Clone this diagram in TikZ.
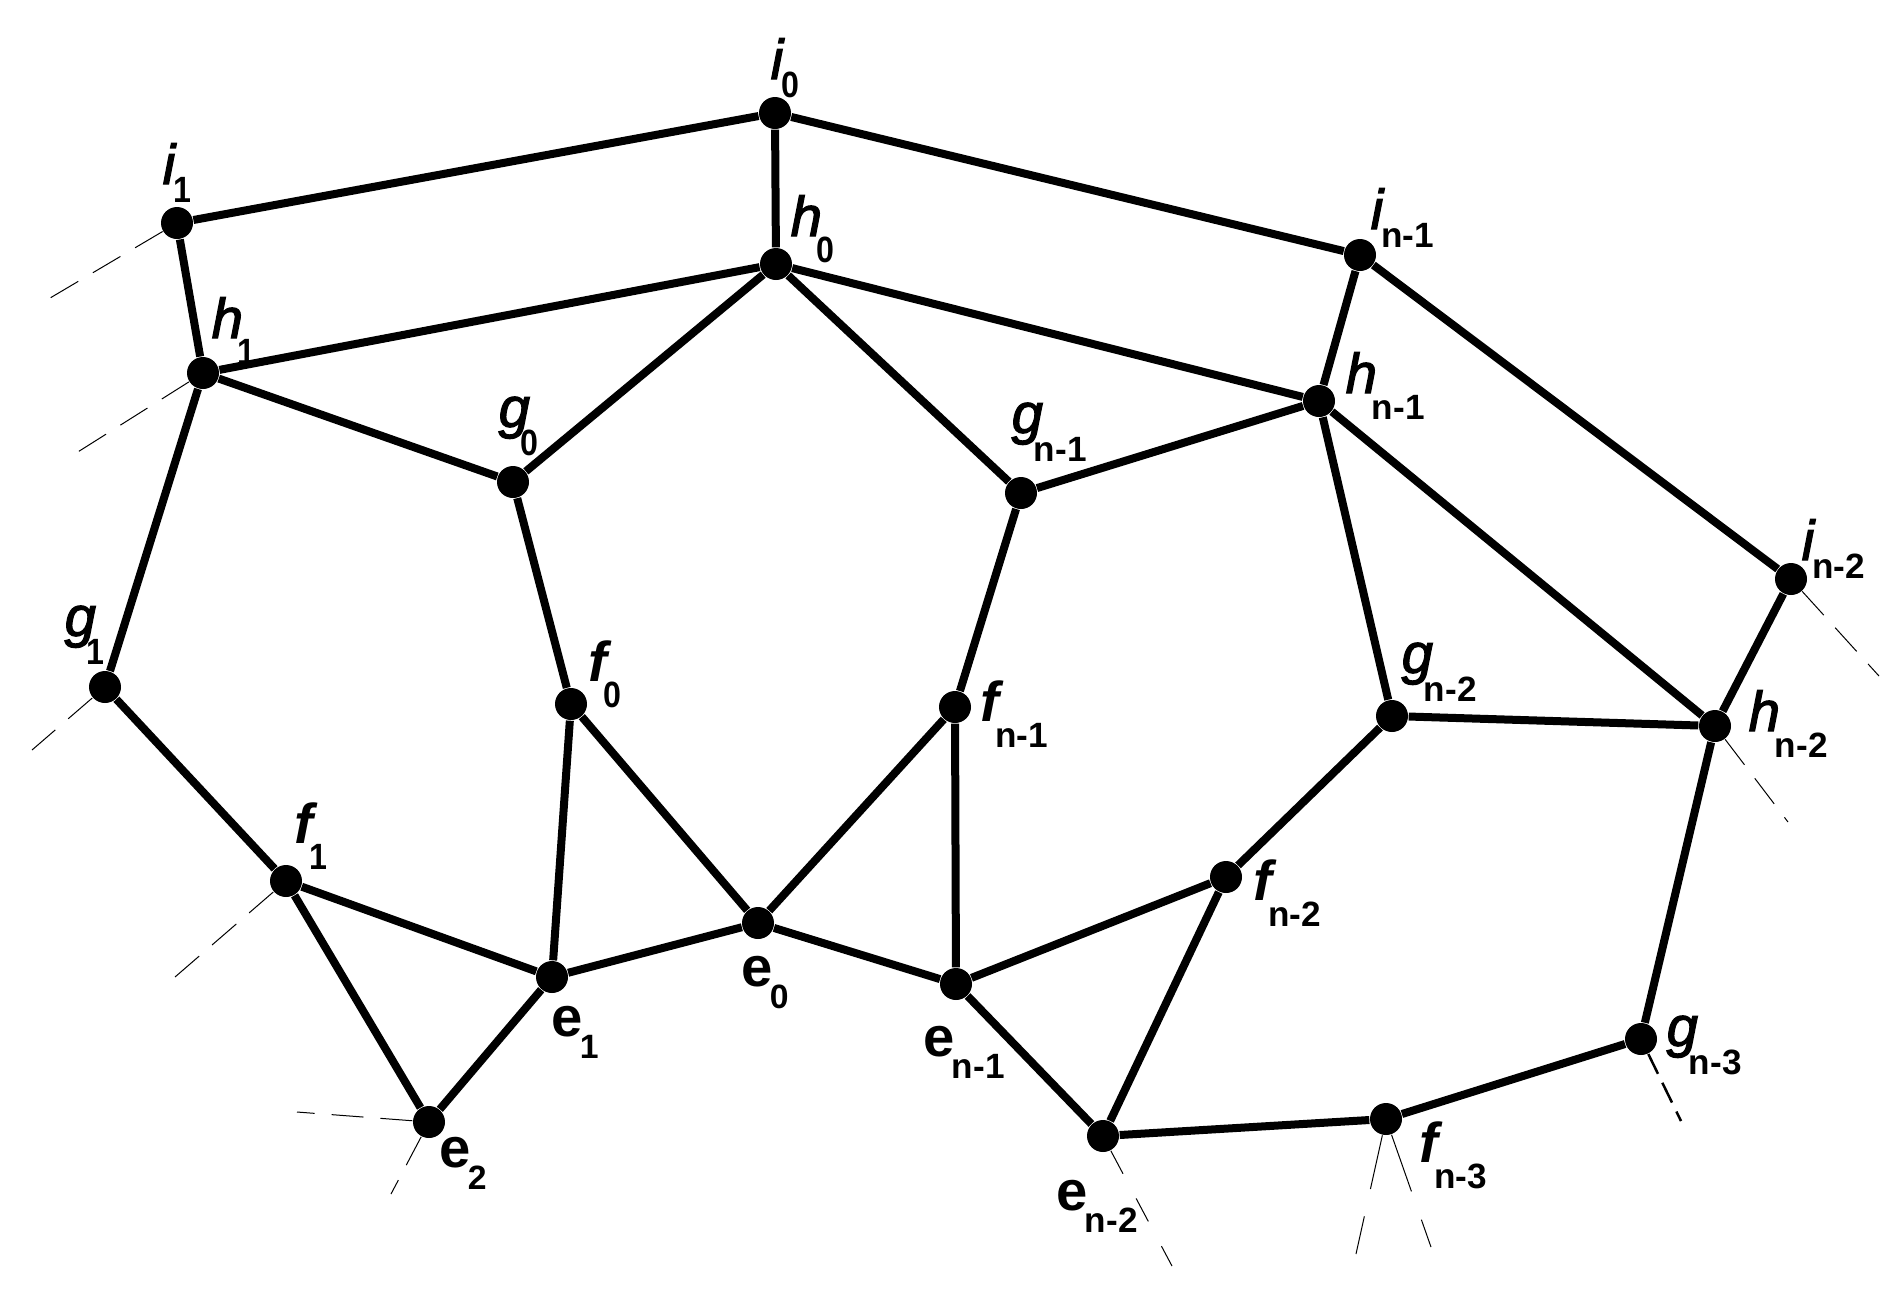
\documentclass[tikz,border=0pt]{standalone}
\usepackage{fontspec}
\setmainfont{Liberation Sans}
\newcommand{\subtxt}[3]{\hspace{#1}\raisebox{#2}{#3}}
\newcommand{\subd}[1]{\fontsize{10.4}{12}\selectfont\bfseries\addfontfeature{FakeStretch=0.88}#1}
\newcommand{\subb}[1]{\fontsize{9.6}{12}\selectfont\bfseries #1}
\newcommand{\subn}[1]{\fontsize{10}{12}\selectfont\bfseries #1}
\newcommand{\slant}[1]{{\itshape\addfontfeature{FakeBold=2.2}#1}}
\newcommand{\labi}[1]{\slant{i}\subtxt{-.2mm}{-.18cm}{#1}}
\newcommand{\labh}[1]{\slant{h}\subtxt{-.5mm}{-.26cm}{#1}}
\newcommand{\labg}[1]{\slant{g}\subtxt{-.9mm}{-.28cm}{#1}}
\newcommand{\labf}[1]{\textbf{\textit{f}}\subtxt{-.9mm}{-.26cm}{#1}}
\newcommand{\labe}[1]{\textbf{e}\subtxt{-.3mm}{-.22cm}{#1}}
\tikzset{
  vert/.style={circle,fill=black,inner sep=0pt,minimum size=3.2mm},
  lab/.style={anchor=base west,inner sep=0pt,font=\fontsize{16}{18}\selectfont},
  edge/.style={line width=.8mm},
  stub/.style={line width=.1mm,dash pattern=on 3.2mm off 1.7mm},
}
\begin{document}
\begin{tikzpicture}[x=.1mm,y=-.1mm]
          \useasboundingbox (0,0) rectangle (1899,1305);
          % vertices
          \node[vert] (i0) at (775,113) {};
          \node[vert] (i1) at (177,223) {};
          \node[vert] (in1) at (1360,255) {};
          \node[vert] (in2) at (1791,579) {};
          \node[vert] (h0) at (776,264) {};
          \node[vert] (h1) at (203,373) {};
          \node[vert] (hn1) at (1319,401) {};
          \node[vert] (hn2) at (1715,726) {};
          \node[vert] (g0) at (513,482) {};
          \node[vert] (g1) at (105,687) {};
          \node[vert] (gn1) at (1021,493) {};
          \node[vert] (gn2) at (1392,716) {};
          \node[vert] (gn3) at (1641,1039) {};
          \node[vert] (f0) at (571,704) {};
          \node[vert] (f1) at (286,881) {};
          \node[vert] (fn1) at (955,707) {};
          \node[vert] (fn2) at (1226,877) {};
          \node[vert] (fn3) at (1386,1119) {};
          \node[vert] (e0) at (758,923) {};
          \node[vert] (e1) at (552,977) {};
          \node[vert] (e2) at (429,1122) {};
          \node[vert] (en1) at (956,984) {};
          \node[vert] (en2) at (1103,1136) {};
          % labels
          \node[lab] (li0) at (770,79) {\labi{\subd{0}}};
          \node[lab] (li1) at (162,184) {\labi{\subd{1}}};
          \node[lab] (lin1) at (1370,229) {\labi{\subn{n-1}}};
          \node[lab] (lin2) at (1801,560) {\labi{\subn{n-2}}};
          \node[lab] (lh0) at (790,236) {\labh{\subd{0}}};
          \node[lab] (lh1) at (211,338) {\labh{\subd{1}}};
          \node[lab] (lhn1) at (1345,393) {\labh{\subn{n-1}}};
          \node[lab] (lhn2) at (1748,731) {\labh{\subn{n-2}}};
          \node[lab] (lg0) at (498,427) {\labg{\subd{0}}};
          \node[lab] (lg1) at (64,636) {\labg{\subd{1}}};
          \node[lab] (lgn1) at (1011,433) {\labg{\subn{n-1}}};
          \node[lab] (lgn2) at (1401,673) {\labg{\subn{n-2}}};
          \node[lab] (lgn3) at (1666,1046) {\labg{\subn{n-3}}};
          \node[lab] (lf0) at (588,681) {\labf{\subd{0}}};
          \node[lab] (lf1) at (294,843) {\labf{\subd{1}}};
          \node[lab] (lfn1) at (980,721) {\labf{\subn{n-1}}};
          \node[lab] (lfn2) at (1253,900) {\labf{\subn{n-2}}};
          \node[lab] (lfn3) at (1419,1162) {\labf{\subn{n-3}}};
          \node[lab] (le0) at (741,986) {\labe{\subb{0}}};
          \node[lab] (le1) at (551,1036) {\labe{\subb{1}}};
          \node[lab] (le2) at (439,1167) {\labe{\subb{2}}};
          \node[lab] (len1) at (923,1056) {\labe{\subn{n-1}}};
          \node[lab] (len2) at (1056,1210) {\labe{\subn{n-2}}};
          % edges
          \draw[edge] (i1)--(i0)--(in1)--(in2);
          \draw[edge] (i0)--(h0);
          \draw[edge] (i1)--(h1);
          \draw[edge] (in1)--(hn1);
          \draw[edge] (in2)--(hn2);
          \draw[edge] (h1)--(h0)--(hn1)--(hn2);
          \draw[edge] (h1)--(g0)--(h0)--(gn1)--(hn1)--(gn2);
          \draw[edge] (h1)--(g1)--(f1)--(e1)--(e0)--(en1)--(fn2)--(gn2)--(hn2)--(gn3)--(fn3)--(en2);
          \draw[edge] (g0)--(f0)--(e1);
          \draw[edge] (f0)--(e0)--(fn1)--(gn1);
          \draw[edge] (fn1)--(en1)--(en2)--(fn2);
          \draw[edge] (f1)--(e2)--(e1);
          % open ends
          \coordinate (si1) at (45,301);
          \coordinate (sh1) at (73,455);
          \coordinate (sg1) at (32,750);
          \coordinate (sf1) at (175,977);
          \coordinate (se2a) at (297,1112);
          \coordinate (se2b) at (391,1194);
          \coordinate (sen2) at (1172,1266);
          \coordinate (sfn3a) at (1356,1254);
          \coordinate (sfn3b) at (1431,1247);
          \coordinate (sgn3) at (1681,1121);
          \coordinate (shn2) at (1788,822);
          \coordinate (sin2) at (1879,676);
          \draw[stub] (i1)--(si1);
          \draw[stub] (h1)--(sh1);
          \draw[stub] (g1)--(sg1);
          \draw[stub] (f1)--(sf1);
          \draw[stub] (e2)--(se2a);
          \draw[stub] (e2)--(se2b);
          \draw[stub,dash pattern=on 2.6mm off 2.8mm] (en2)--(sen2);
          \draw[stub,dash pattern=on 5.5mm off 2.8mm] (fn3)--(sfn3a);
          \draw[stub,dash pattern=on 6mm off 3mm] (fn3)--(sfn3b);
          \draw[stub,line width=.25mm,dash pattern=on 2.2mm off 1mm] (gn3)--(sgn3);
          \draw[stub] (hn2)--(shn2);
          \draw[stub] (in2)--(sin2);
        \end{tikzpicture}
\end{document}
